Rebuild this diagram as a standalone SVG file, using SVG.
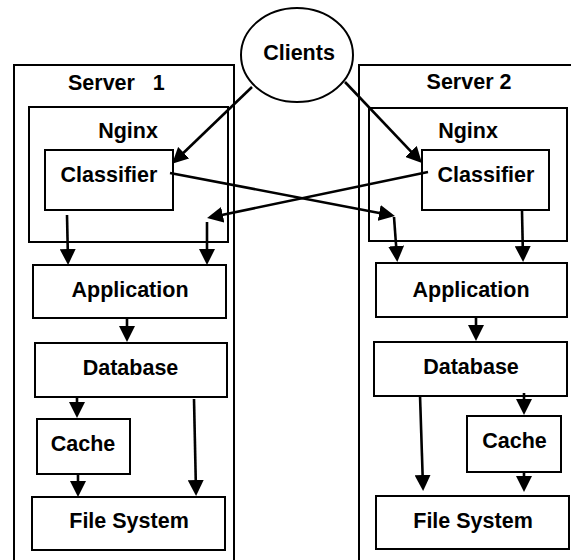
<svg xmlns="http://www.w3.org/2000/svg" width="571" height="560" viewBox="0 0 571 560">
<style>
.box{fill:#fff;stroke:#000;stroke-width:2}
.lbl{font-family:"Liberation Sans",Arial,sans-serif;font-weight:bold;font-size:21.5px;fill:#000;text-anchor:middle}
.arr{stroke:#000;stroke-width:2.6;fill:none;marker-end:url(#ah)}
</style>
<defs>
<marker id="ah" markerUnits="userSpaceOnUse" markerWidth="16" markerHeight="16" viewBox="0 0 16 16" refX="12" refY="8" orient="auto">
<path d="M0,0 L16,8 L0,16 z" fill="#000"/>
</marker>
</defs>
<rect width="571" height="560" fill="#fff"/>
<g id="server1">
<rect class="box" x="14" y="65" width="220" height="505"/>
<text class="lbl" x="68" y="90" style="text-anchor:start;white-space:pre" xml:space="preserve">Server   1</text>
</g>
<g id="server2">
<rect class="box" x="359" y="65" width="220" height="505"/>
<text class="lbl" x="469" y="89">Server 2</text>
</g>
<g id="nginx1">
<rect class="box" x="29" y="107" width="199" height="135"/>
<text class="lbl" x="128" y="138">Nginx</text>
</g>
<g id="nginx2">
<rect class="box" x="369" y="108" width="198" height="133"/>
<text class="lbl" x="468" y="138">Nginx</text>
</g>
<g id="classifier1">
<rect class="box" x="45" y="150" width="128" height="60"/>
<text class="lbl" x="109" y="182">Classifier</text>
</g>
<g id="classifier2">
<rect class="box" x="422" y="150" width="127" height="60"/>
<text class="lbl" x="486" y="182">Classifier</text>
</g>
<g id="clients">
<ellipse cx="297" cy="55" rx="56" ry="47" fill="#fff" stroke="#000" stroke-width="2"/>
<text class="lbl" x="299" y="60">Clients</text>
</g>
<g id="application1">
<rect class="box" x="33" y="265" width="193" height="53"/>
<text class="lbl" x="130" y="297">Application</text>
</g>
<g id="database1">
<rect class="box" x="35" y="343" width="192" height="54"/>
<text class="lbl" x="130.5" y="375">Database</text>
</g>
<g id="cache1">
<rect class="box" x="37" y="419" width="93" height="55"/>
<text class="lbl" x="83" y="451">Cache</text>
</g>
<g id="filesystem1">
<rect class="box" x="32" y="497" width="193" height="53"/>
<text class="lbl" x="129" y="528">File System</text>
</g>
<g id="application2">
<rect class="box" x="376" y="263" width="191" height="54"/>
<text class="lbl" x="471" y="297">Application</text>
</g>
<g id="database2">
<rect class="box" x="374" y="342" width="193" height="54"/>
<text class="lbl" x="471" y="374">Database</text>
</g>
<g id="cache2">
<rect class="box" x="467" y="416" width="94" height="56"/>
<text class="lbl" x="514.5" y="448">Cache</text>
</g>
<g id="filesystem2">
<rect class="box" x="376" y="496" width="193" height="53"/>
<text class="lbl" x="473" y="528">File System</text>
</g>
<g id="connectors">
<line class="arr" x1="252" y1="87" x2="175" y2="161"/>
<line class="arr" x1="170" y1="173" x2="391" y2="215.2"/>
<line class="arr" x1="428" y1="172" x2="211" y2="217.2"/>
<line class="arr" x1="345" y1="82" x2="419.2" y2="160.1"/>
<line class="arr" x1="67" y1="215" x2="68" y2="261"/>
<line class="arr" x1="207" y1="222" x2="207" y2="261"/>
<line class="arr" x1="394" y1="217" x2="397" y2="258"/>
<line class="arr" x1="522" y1="211" x2="523" y2="258"/>
<line class="arr" x1="127" y1="318" x2="127" y2="338"/>
<line class="arr" x1="77" y1="397" x2="77" y2="414"/>
<line class="arr" x1="78" y1="474" x2="78" y2="493"/>
<line class="arr" x1="194" y1="399" x2="196" y2="492"/>
<line class="arr" x1="476" y1="317" x2="476" y2="337"/>
<line class="arr" x1="524" y1="393" x2="524" y2="411"/>
<line class="arr" x1="524" y1="472" x2="524" y2="488"/>
<line class="arr" x1="420" y1="395" x2="423" y2="487"/>
</g>
</svg>
